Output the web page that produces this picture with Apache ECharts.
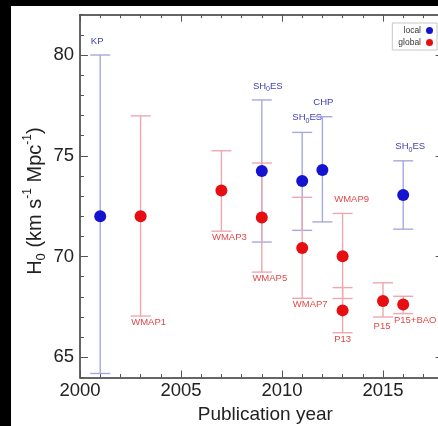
<!DOCTYPE html>
<html><head><meta charset="utf-8">
<script src="https://cdn.jsdelivr.net/npm/echarts@6/dist/echarts.min.js"></script>
<style>
html,body{margin:0;padding:0;background:#000;width:438px;height:426px;overflow:hidden}
#panel{position:absolute;left:11px;top:6px;width:427px;height:420px;background:#fff}
#chart{position:absolute;left:0;top:0;width:438px;height:426px}
</style></head><body><div id="panel"></div><div id="chart"></div>
<script>
// ---- data ----
const localYears  = [2001, 2009, 2011, 2012, 2016];
const localValues = [72.0, 74.25, 73.75, 74.3, 73.05];
const localLower  = [64.2, 70.72, 71.3, 71.72, 71.36];
const localUpper  = [80.0, 77.77, 76.16, 76.94, 74.75];
const localNames  = ['KP', 'SH0ES', 'SH0ES', 'CHP', 'SH0ES'];

const globalYears  = [2003, 2007, 2009, 2011, 2013, 2013, 2015, 2016];
const globalValues = [72.0, 73.28, 71.94, 70.42, 70.02, 67.33, 67.8, 67.62];
const globalLower  = [67.05, 71.26, 69.23, 67.93, 67.92, 66.22, 67.0, 67.17];
const globalUpper  = [76.98, 75.25, 74.64, 72.94, 72.14, 68.46, 68.7, 68.03];
const globalNames  = ['WMAP1', 'WMAP3', 'WMAP5', 'WMAP7', 'WMAP9', 'P13', 'P15', 'P15+BAO'];

const xMajorTicks = [2000, 2005, 2010, 2015];
const xMinorTicks = [2001, 2002, 2003, 2004, 2006, 2007, 2008, 2009, 2011, 2012, 2013, 2014, 2016, 2017];
const yMajorTicks = [65, 70, 75, 80];
const yMinorTicks = [64, 66, 67, 68, 69, 71, 72, 73, 74, 76, 77, 78, 79, 81, 82];

// ---- label placement (style, not data) ----
const localLabelPlace = [
  {side: 'top', dx: -3, dy: -13},
  {side: 'top', dx: 6, dy: -13},
  {side: 'top', dx: 5, dy: -14},
  {side: 'top', dx: 1, dy: -13},
  {side: 'top', dx: 7, dy: -13}
];
const globalLabelPlace = [
  {side: 'bottom', dx: 8, dy: 7.5},
  {side: 'bottom', dx: 8, dy: 7.5},
  {side: 'bottom', dx: 8, dy: 7.5},
  {side: 'bottom', dx: 8, dy: 7.5},
  {side: 'top', dx: 9, dy: -13},
  {side: 'bottom', dx: 0, dy: 7.5},
  {side: 'bottom', dx: -1, dy: 10},
  {side: 'bottom', dx: 12, dy: 8}
];

const FONT = 'Liberation Sans, Arial, Helvetica, sans-serif';
const BLUE = '#1414d0', RED = '#e60e12';
const BLUE_BAR = '#a8a8de', RED_BAR = '#eea8b0';
const BLUE_TXT = '#4040b8', RED_TXT = '#e04848';

function errorSeries(years, lower, upper, names, place, barColor, txtColor) {
  return {
    type: 'custom',
    xAxisIndex: 0, yAxisIndex: 0,
    z: 1,
    silent: true,
    data: years.map((y, i) => [y, lower[i], upper[i], i]),
    encode: {x: 0, y: [1, 2]},
    renderItem: function (params, api) {
      const x = api.value(0), lo = api.value(1), hi = api.value(2), i = api.value(3);
      const pLo = api.coord([x, lo]), pHi = api.coord([x, hi]);
      const hw = 10;
      const st = {stroke: barColor, lineWidth: 1.4};
      const pl = place[i];
      const a = pl.side === 'top' ? pHi : pLo;
      const txt = names[i] === 'SH0ES' ? '{n|SH}{s|0}{n|ES}' : '{n|' + names[i] + '}';
      return {
        type: 'group',
        children: [
          {type: 'line', shape: {x1: pLo[0], y1: pLo[1], x2: pHi[0], y2: pHi[1]}, style: st},
          {type: 'line', shape: {x1: pLo[0] - hw, y1: pLo[1], x2: pLo[0] + hw, y2: pLo[1]}, style: st},
          {type: 'line', shape: {x1: pHi[0] - hw, y1: pHi[1], x2: pHi[0] + hw, y2: pHi[1]}, style: st},
          {type: 'text', x: a[0] + pl.dx, y: a[1] + pl.dy,
            style: {
              text: txt, align: 'center', verticalAlign: 'middle',
              fill: txtColor, fontSize: 9.5, fontFamily: FONT,
              rich: {
                n: {fill: txtColor, fontSize: 9.5, fontFamily: FONT, lineHeight: 12, verticalAlign: 'top'},
                s: {fill: txtColor, fontSize: 7, fontFamily: FONT, lineHeight: 12, verticalAlign: 'top', padding: [5, 0, 0, 0]}
              }
            }}
        ]
      };
    }
  };
}

const axisLineStyle = {color: '#333', width: 1.5};
const tickStyle = {color: '#555', width: 1};
const labelStyle = {color: '#222', fontSize: 18.5, fontFamily: FONT, formatter: v => String(v)};

function xAx(pos, major, withLabel) {
  const o = {
    type: 'value', position: pos, min: 2000, max: 2018,
    axisLine: {show: major, onZero: false, lineStyle: axisLineStyle},
    axisTick: {show: true, inside: true, length: major ? 7 : 3.5, customValues: major ? xMajorTicks : xMinorTicks, lineStyle: tickStyle},
    axisLabel: withLabel ? Object.assign({show: true, margin: 4, customValues: xMajorTicks}, labelStyle) : {show: false},
    splitLine: {show: false}
  };
  if (withLabel) {
    o.name = 'Publication year';
    o.nameLocation = 'middle';
    o.nameGap = 26.5;
    o.nameTextStyle = {color: '#222', fontSize: 19, fontFamily: FONT, padding: [0, 0, 0, 7]};
  }
  return o;
}
function yAx(pos, major, withLabel) {
  const o = {
    type: 'value', position: pos, min: 64, max: 82,
    axisLine: {show: major, onZero: false, lineStyle: axisLineStyle},
    axisTick: {show: true, inside: true, length: major ? 8 : 4, customValues: major ? yMajorTicks : yMinorTicks, lineStyle: tickStyle},
    axisLabel: withLabel ? Object.assign({show: true, margin: 6, customValues: yMajorTicks}, labelStyle) : {show: false},
    splitLine: {show: false}
  };
  if (withLabel) {
    o.name = '{m|H}{sub|0}{m| (km s}{sup|-1}{m| Mpc}{sup|-1}{m|)}';
    o.nameLocation = 'middle';
    o.nameRotate = 90;
    o.nameGap = 32;
    o.nameMoveOverlap = false;
    o.nameTextStyle = {
      color: '#222', fontSize: 20, fontFamily: FONT, padding: [0, 10, 0, 0],
      rich: {
        m: {color: '#222', fontSize: 20, fontFamily: FONT, lineHeight: 26, verticalAlign: 'middle'},
        sub: {color: '#222', fontSize: 13, fontFamily: FONT, lineHeight: 13, verticalAlign: 'bottom'},
        sup: {color: '#222', fontSize: 12, fontFamily: FONT, lineHeight: 13, verticalAlign: 'top'}
      }
    };
  }
  return o;
}

const chart = echarts.init(document.getElementById('chart'), null, {renderer: 'canvas'});
chart.setOption({
  backgroundColor: 'transparent',
  animation: false,
  grid: {left: 80, top: 14.7, width: 363.6, height: 362.8, containLabel: false, outerBoundsMode: 'none'},
  xAxis: [xAx('bottom', true, true), xAx('bottom', false, false), xAx('top', true, false), xAx('top', false, false)],
  yAxis: [yAx('left', true, true), yAx('left', false, false), yAx('right', true, false), yAx('right', false, false)],
  legend: {
    data: [{name: 'local', icon: 'circle'}, {name: 'global', icon: 'circle'}],
    orient: 'vertical', align: 'right', right: 1, top: 23,
    itemWidth: 7, itemHeight: 7, itemGap: 3,
    padding: [3, 4, 3, 6],
    backgroundColor: '#fff', borderColor: '#c8c8c8', borderWidth: 1,
    textStyle: {color: '#333', fontSize: 8.5, fontFamily: FONT},
    selectedMode: false
  },
  series: [
    errorSeries(localYears, localLower, localUpper, localNames, localLabelPlace, BLUE_BAR, BLUE_TXT),
    errorSeries(globalYears, globalLower, globalUpper, globalNames, globalLabelPlace, RED_BAR, RED_TXT),
    {name: 'local', type: 'scatter', xAxisIndex: 0, yAxisIndex: 0, z: 3, symbol: 'circle', symbolSize: 12,
      itemStyle: {color: BLUE, opacity: 1}, data: localYears.map((y, i) => [y, localValues[i]])},
    {name: 'global', type: 'scatter', xAxisIndex: 0, yAxisIndex: 0, z: 3, symbol: 'circle', symbolSize: 12,
      itemStyle: {color: RED, opacity: 1}, data: globalYears.map((y, i) => [y, globalValues[i]])}
  ]
});
</script></body></html>
